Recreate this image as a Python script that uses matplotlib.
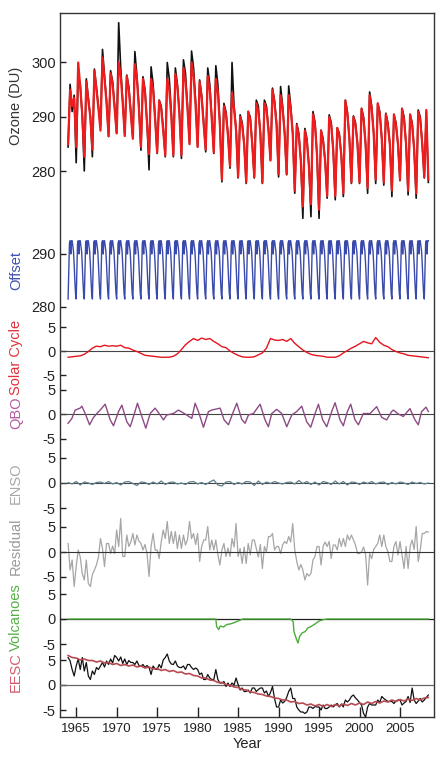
import numpy as np
import matplotlib.pyplot as plt

plt.rcParams['font.family'] = ['Liberation Sans', 'DejaVu Sans']
plt.rcParams['axes.unicode_minus'] = False

# ozone (DU), quarterly from Jan 1964: observed (black) and model (red)
ozone_obs = [
    284.5, 296.0, 291.0, 294.0,  # 1964
    281.6, 297.7, 296.0, 290.0,
    280.1, 297.0, 293.5, 290.0,
    282.7, 298.8, 295.5, 292.0,
    288.2, 302.4, 297.5, 293.0,
    286.4, 298.5, 296.5, 292.0,
    287.0, 307.3, 299.0, 293.0,  # 1970
    286.7, 297.7, 295.5, 291.0,
    286.1, 302.0, 297.5, 292.0,
    283.9, 297.4, 295.0, 289.0,
    280.3, 299.2, 296.0, 290.0,
    283.3, 293.1, 292.0, 288.0,
    282.7, 300.0, 297.0, 291.0,
    282.7, 299.0, 296.0, 291.0,
    282.4, 300.5, 298.0, 292.0,
    285.2, 302.1, 299.0, 293.0,
    284.5, 296.8, 294.0, 289.0,  # 1980
    283.6, 299.0, 296.0, 290.0,
    283.3, 299.4, 296.0, 289.0,
    278.1, 292.5, 291.0, 287.0,
    280.6, 300.0, 292.0, 288.0,
    278.8, 290.4, 289.0, 285.0,
    277.8, 291.0, 290.0, 285.0,
    278.8, 293.1, 292.0, 287.0,
    277.8, 293.1, 292.0, 288.0,
    282.1, 295.3, 293.0, 289.0,
    279.0, 295.6, 292.0, 287.0,  # 1990
    279.4, 295.7, 292.0, 287.0,
    276.0, 288.8, 287.0, 282.0,
    271.4, 287.9, 286.0, 281.0,
    271.7, 291.0, 289.0, 283.0,
    271.4, 287.6, 286.0, 282.0,
    275.1, 290.4, 289.0, 284.0,
    274.8, 288.0, 287.0, 283.0,
    275.4, 293.1, 291.0, 286.0,
    277.8, 290.2, 289.0, 285.0,
    277.8, 291.6, 290.0, 285.0,  # 2000
    276.0, 294.6, 292.0, 287.0,
    277.8, 292.5, 291.0, 286.0,
    277.5, 290.7, 289.0, 285.0,
    275.4, 290.4, 289.0, 285.0,
    278.3, 291.6, 290.0, 285.0,
    275.7, 290.4, 289.0, 284.0,
    275.1, 291.3, 290.0, 285.0,
    278.8, 291.0, 278.0,         # 2008
]
ozone_model = [
    285.0, 295.0, 292.0, 293.5,  # 1964
    284.5, 300.0, 295.5, 290.5,
    282.7, 296.5, 293.0, 290.0,
    284.0, 298.5, 295.0, 291.5,
    287.5, 300.9, 297.0, 292.5,
    286.5, 298.0, 296.0, 291.5,
    287.0, 300.0, 297.5, 292.5,  # 1970
    286.5, 297.5, 295.0, 290.5,
    286.0, 299.7, 297.0, 291.5,
    284.5, 297.0, 294.5, 289.0,
    283.2, 297.0, 295.0, 289.5,
    283.5, 293.0, 291.5, 287.5,
    283.0, 297.0, 295.0, 290.0,
    283.0, 297.9, 295.5, 290.5,
    283.0, 299.0, 296.5, 291.5,
    285.0, 300.0, 297.5, 292.0,
    284.5, 296.5, 293.5, 288.5,  # 1980
    284.0, 297.5, 295.0, 289.5,
    283.5, 297.0, 294.5, 288.5,
    278.5, 292.0, 290.5, 286.5,
    281.0, 294.5, 291.5, 287.5,
    279.0, 290.0, 288.5, 285.0,
    278.0, 291.0, 289.5, 285.0,
    279.0, 292.5, 291.0, 287.0,
    278.0, 292.5, 291.5, 287.5,
    282.0, 295.0, 292.5, 288.5,
    279.5, 294.0, 291.5, 287.0,  # 1990
    279.5, 294.0, 291.5, 287.0,
    276.5, 288.5, 286.5, 282.0,
    273.6, 287.5, 285.5, 281.0,
    274.0, 290.5, 288.5, 283.0,
    273.0, 287.5, 285.5, 282.0,
    275.5, 290.0, 288.5, 284.0,
    275.5, 288.0, 286.5, 283.0,
    276.0, 293.0, 290.5, 286.0,
    278.0, 290.0, 288.5, 285.0,
    278.0, 291.5, 289.5, 285.0,  # 2000
    277.0, 294.0, 291.5, 287.0,
    278.5, 292.5, 290.5, 286.0,
    278.0, 290.5, 288.5, 285.0,
    276.5, 290.5, 288.5, 285.0,
    278.5, 291.5, 289.5, 285.0,
    276.5, 290.5, 288.5, 284.0,
    276.0, 291.0, 289.5, 285.0,
    279.0, 291.3, 278.5,         # 2008
]

# seasonal offset (DU), Jan..Dec, the same every year
offset_cycle = [281.5, 286.5, 292.0, 292.5, 290.0, 292.5,
                292.5, 291.5, 290.5, 288.0, 285.0, 282.5]

# solar cycle term, half-yearly from 1964
solar = [
    -1.3, -1.2, -1.1, -1.0, -0.7, -0.1, 0.6, 1.0, 0.9, 1.2,
    1.0, 1.1, 1.0, 1.2, 0.7, 0.6, 0.2, -0.1, -0.5, -0.9,
    -1.0, -1.1, -1.2, -1.3, -1.3, -1.3, -1.1, -0.6, 0.3, 1.3,
    2.0, 2.6, 2.2, 2.7, 2.4, 2.6, 2.0, 1.5, 0.9, 0.7,
    0.0, -0.5, -0.9, -1.2, -1.3, -1.3, -1.2, -0.8, -0.4, 0.6,
    2.6, 2.3, 2.2, 2.4, 2.0, 2.6, 1.6, 0.9, 0.2, -0.3,
    -0.7, -0.9, -1.0, -1.1, -1.3, -1.3, -1.3, -1.0, -0.4, 0.1,
    0.6, 1.0, 1.5, 2.0, 1.7, 1.5, 2.8, 1.8, 1.2, 0.9,
    0.3, -0.1, -0.4, -0.6, -0.9, -1.0, -1.1, -1.2, -1.3, -1.4,
]

# QBO term, turning points
qbo_year = [
    1964.0, 1964.47, 1964.88, 1965.49, 1965.7, 1966.11, 1966.65, 1967.14,
    1967.55, 1967.96, 1968.58, 1969.2, 1969.61, 1970.23, 1970.64, 1971.26,
    1971.67, 1972.08, 1972.57, 1973.11, 1973.6, 1974.14, 1974.75, 1975.37,
    1975.78, 1976.19, 1977.02, 1977.63, 1978.46, 1979.28, 1979.69, 1980.1,
    1980.72, 1981.34, 1981.75, 1982.78, 1983.27, 1983.81, 1984.42, 1984.84,
    1985.45, 1985.86, 1986.28, 1986.89, 1987.72, 1988.33, 1988.74, 1989.16,
    1989.77, 1990.39, 1991.01, 1991.63, 1992.24, 1992.86, 1993.48, 1993.97,
    1994.51, 1994.92, 1995.45, 1995.95, 1996.56, 1996.98, 1997.59, 1998.0,
    1998.5, 1998.91, 1999.44, 1999.86, 2000.47, 2001.3, 2002.12, 2002.74,
    2003.35, 2003.97, 2004.18, 2004.79, 2005.41, 2006.23, 2006.85, 2007.26,
    2007.67, 2008.21, 2008.5,
]
qbo = [
    -1.9, -0.9, 0.8, 1.2, 1.6, 0.1, -2.2, -0.7,
    0.1, 0.8, 2.0, -1.2, -2.4, 0.5, 1.8, -1.6,
    -2.6, -0.5, 2.2, -0.5, -2.9, 0.1, 1.2, -0.2,
    -1.2, -0.2, 0.1, 0.8, 0.0, -0.9, 2.2, 0.5,
    -2.7, 0.5, 0.8, 1.2, -1.2, -2.2, 0.5, 2.2,
    -1.1, -1.9, -0.2, 0.1, 2.0, -1.2, -2.6, 0.1,
    0.95, 0.1, -2.6, -0.2, 0.5, 1.6, -1.6, -2.7,
    0.1, 2.0, -1.2, -2.6, 0.5, 2.3, -1.2, -2.4,
    0.5, 2.0, -1.2, -2.2, 0.1, 0.1, 1.5, -0.7,
    -1.2, 0.5, 0.8, 0.0, -0.5, 1.1, -1.2, -2.2,
    0.5, 1.4, 0.5,
]

# ENSO term, half-yearly from 1964
enso = [
    0.1, -0.2, 0.3, -0.4, 0.2, 0.0, -0.3, 0.1, 0.2, -0.1,
    0.3, -0.2, 0.1, -0.4, 0.2, 0.3, -0.1, -0.5, 0.2, 0.1,
    -0.3, 0.2, -0.2, 0.4, -0.3, 0.1, 0.2, -0.2, 0.0, -0.3,
    0.2, 0.3, -0.2, 0.1, -0.3, 0.2, 0.6, -0.4, -0.6, 0.2,
    0.3, -0.3, 0.1, -0.2, 0.3, 0.2, -0.5, 0.4, -0.3, 0.2,
    -0.1, 0.3, 0.0, -0.2, 0.1, 0.2, -0.2, 0.5, -0.1, 0.3,
    -0.3, 0.2, -0.4, 0.3, 0.1, -0.3, 0.4, -0.2, 0.3, -0.4,
    0.2, 0.1, -0.3, 0.2, -0.1, 0.3, -0.2, 0.1, 0.2, -0.3,
    0.1, -0.2, 0.2, 0.0, -0.3, 0.2, -0.1, 0.1, -0.2, 0.0,
]

# residual, quarterly from 1964
residual = [
    1.7, -3.6, -1.6, -6.9,  # 1964
    -2.9, 0.4, -1.0, -4.3,
    -5.6, -1.6, -6.3, -6.9,
    -4.5, -3.6, -2.6, -1.0,
    2.7, 0.7, -2.9, 1.7,
    1.7, -0.3, 1.2, -0.3,
    4.4, 1.1, 6.7, -0.9,  # 1970
    -0.9, 3.4, 1.1, 2.0,
    3.7, 1.4, 3.4, 2.2,
    1.7, 0.4, 1.5, -0.3,
    -4.9, 1.1, 3.7, 0.4,
    0.4, -1.3, 2.0, 4.4,
    2.7, 6.1, 1.7, 4.1,
    1.7, 4.1, 0.7, 3.4,
    0.7, 3.4, 1.4, 2.5,
    6.1, 2.7, 3.7, 1.5,
    3.7, -1.9, 1.1, 2.4,  # 1980
    2.4, 5.1, 0.4, 2.4,
    0.4, 2.4, -0.5, -2.6,
    0.4, 1.7, -0.9, 0.8,
    -0.9, 2.7, 1.0, 5.7,
    -0.9, 0.7, -2.3, 1.0,
    -2.3, 1.7, -0.6, 2.4,
    2.4, 0.7, -1.0, 1.5,
    -3.3, 1.1, 0.0, 3.1,
    3.1, 3.7, 0.4, 1.1,
    1.1, -0.3, 1.4, 2.1,  # 1990
    1.7, 3.1, 2.0, 5.7,
    0.4, -1.9, -3.6, -2.5,
    -3.6, -5.6, -4.3, -4.8,
    -4.3, -1.6, -0.9, 1.1,
    1.1, -2.6, 1.1, 2.0,
    1.1, 2.1, -1.3, 1.4,
    1.4, 0.4, 2.7, 1.1,
    2.7, 1.1, 3.4, 2.4,
    3.4, 2.4, 1.4, -0.3,
    -0.3, 0.0, 1.0, -0.5,  # 2000
    -6.6, -0.3, -1.3, 0.5,
    1.1, 1.7, 3.4, 1.1,
    3.4, 1.1, 0.1, -1.9,
    -1.9, 1.1, 2.1, -0.6,
    2.1, -0.6, -3.3, 1.1,
    -3.3, 1.1, 2.4, 0.5,
    5.1, -1.9, 0.4, 3.7,
    3.7, 4.1, 4.0,  # 2008
]

# volcanic term, turning points
volc_year = [1964.0, 1982.25, 1982.35, 1982.6, 1982.8, 1983.2, 1983.6, 1984.0,
             1984.4, 1985.0, 1985.6, 1991.5, 1991.8, 1991.9, 1992.2, 1992.4,
             1992.6, 1992.9, 1993.3, 1993.6, 1994.0, 1994.5, 1995.0, 1995.6,
             1996.0, 2008.5]
volc = [0.0, 0.0, -1.5, -2.1, -1.4, -1.6, -1.1, -1.0,
        -0.8, -0.4, 0.0, 0.0, -0.5, -2.5, -4.0, -4.8,
        -3.5, -2.8, -2.5, -1.8, -1.5, -1.0, -0.4, -0.1,
        0.0, 0.0]

# EESC: ozone minus other terms (black, quarterly) and EESC fit (red, half-yearly)
eesc_obs = [
    5.5, 4.8, 3.1, 1.8,  # 1964
    3.8, 5.2, 3.1, 5.5,
    2.8, 4.5, 1.8, 1.1,
    2.8, 2.1, 3.5, 3.1,
    3.8, 4.5, 3.6, 4.8,
    4.1, 5.2, 4.4, 5.9,
    5.5, 4.8, 5.6, 4.3,  # 1970
    5.2, 4.1, 4.9, 4.5,
    4.5, 4.1, 4.8, 3.9,
    3.8, 4.1, 3.5, 3.9,
    3.5, 2.1, 3.8, 3.2,
    3.1, 4.1, 3.4, 5.0,
    5.5, 6.2, 4.8, 4.2,
    4.1, 4.8, 3.8, 3.5,
    3.5, 3.8, 3.1, 4.1,
    4.1, 3.5, 3.1, 3.4,
    3.1, 2.1, 2.4, 1.1,  # 1980
    1.1, 2.1, 1.4, 1.1,
    1.1, 3.1, 1.1, 0.4,
    0.4, 0.7, -0.3, 0.4,
    -0.3, 0.4, 0.0, 1.4,
    0.1, -1.0, -0.6, -1.3,
    -1.3, -1.0, -1.6, -0.6,
    -0.6, -1.3, -0.9, -0.6,
    -0.6, -1.6, -1.2, -2.3,
    -1.5, -0.3, -2.7, -4.4,
    -4.4, -3.0, -3.6, -3.3,  # 1990
    -2.5, -1.3, -0.6, -2.7,
    -2.7, -4.4, -5.0, -5.4,
    -5.4, -5.7, -5.4, -4.4,
    -4.4, -4.7, -4.3, -4.4,
    -4.4, -5.0, -4.0, -4.7,
    -4.7, -4.4, -4.0, -4.4,
    -4.0, -3.7, -4.4, -3.8,
    -4.4, -3.0, -3.4, -3.0,
    -2.3, -2.0, -2.6, -3.0,
    -3.5, -4.0, -5.7, -6.4,  # 2000
    -4.4, -3.7, -4.0, -4.0,
    -4.0, -3.0, -3.5, -2.3,
    -2.7, -3.0, -3.3, -3.3,
    -3.3, -3.7, -3.2, -3.0,
    -3.0, -4.0, -3.6, -3.3,
    -2.3, -3.5, -0.6, -3.0,
    -3.7, -3.2, -2.7, -3.4,
    -3.0, -2.5, -2.0,  # 2008
]
eesc_fit = [
    5.9, 5.5, 5.4, 5.0, 5.2, 4.9, 4.9, 4.6, 4.8, 4.4,
    4.5, 4.1, 4.3, 3.9, 4.1, 3.8, 4.0, 3.6, 3.8, 3.4,
    3.6, 3.2, 3.3, 2.9, 3.1, 2.7, 2.9, 2.5, 2.6, 2.2,
    2.3, 1.9, 1.8, 1.4, 1.4, 1.0, 0.9, 0.5, 0.5, 0.1,
    0.0, -0.4, -0.5, -0.9, -1.0, -1.4, -1.5, -1.8, -1.9, -2.2,
    -2.3, -2.6, -2.7, -3.0, -3.0, -3.4, -3.3, -3.7, -3.6, -4.0,
    -3.8, -4.2, -3.9, -4.3, -3.9, -4.3, -3.9, -4.2, -3.8, -4.1,
    -3.7, -4.0, -3.6, -3.9, -3.4, -3.7, -3.3, -3.6, -3.2, -3.4,
    -3.0, -3.3, -2.9, -3.2, -2.8, -3.1, -2.7, -3.0, -2.6, -2.5,
]

year_ticks = [1965, 1970, 1975, 1980, 1985, 1990, 1995, 2000, 2005]


def times(values, step):
    return 1964.0 + step * np.arange(len(values))


W, H = 442, 762
X0, X1 = 60, 434
XLIM = (1963.0, 2009.2)

fig = plt.figure(figsize=(W / 100, H / 100), dpi=100)


def px_axes(top, bot):
    return fig.add_axes([X0 / W, 1 - bot / H, (X1 - X0) / W, (bot - top) / H])


# outer frame with the year axis
frame = px_axes(13, 717)
frame.set_xlim(XLIM)
frame.set_ylim(0, 1)
frame.set_yticks([])
frame.set_xticks(year_ticks)
frame.tick_params(axis='x', direction='in', length=7, width=1, labelsize=9.5,
                  pad=4, colors='#222')
for s in frame.spines.values():
    s.set_color('#333')
    s.set_linewidth(1.0)
frame.set_xlabel('Year', fontsize=10.5, labelpad=2, color='#222')


def panel(top, bot, zero_px, zero_val, ppu, ticks, label, label_color, label_y):
    ax = px_axes(top, bot)
    ax.set_xlim(XLIM)
    ax.set_ylim(zero_val - (bot - zero_px) / ppu, zero_val + (zero_px - top) / ppu)
    ax.patch.set_visible(False)
    for s in ax.spines.values():
        s.set_visible(False)
    ax.set_xticks([])
    ax.set_yticks(ticks)
    ax.tick_params(axis='y', direction='in', length=4, width=1, labelsize=10.5,
                   pad=3, colors='#222')
    fig.text(16 / W, 1 - label_y / H, label, rotation=90, ha='center', va='center',
             fontsize=10.5, color=label_color)
    return ax


# ozone
ax = panel(13, 225, 117, 290, 5.45, [280, 290, 300], 'Ozone (DU)', '#333333', 106)
ax.plot(times(ozone_obs, 0.25), ozone_obs, color='#111111', lw=1.2, clip_on=False)
ax.plot(times(ozone_model, 0.25), ozone_model, color='#ee1c1c', lw=1.6, clip_on=False)

# offset
n_months = 535
offset = np.tile(offset_cycle, n_months // 12 + 1)[:n_months]
ax = panel(225, 315, 254, 290, 5.3, [280, 290], 'Offset', '#3f4fae', 270)
ax.plot(times(offset, 1 / 12), offset, color='#3a4aaa', lw=1.0, clip_on=False)

# solar
ax = panel(315, 380, 351, 0, 4.8, [-5, 0, 5], 'Solar Cycle', '#e0303c', 357)
ax.axhline(0, color='#444444', lw=0.8)
ax.plot(times(solar, 0.5), solar, color='#e4141e', lw=1.0, clip_on=False)

# QBO
ax = panel(380, 450, 414, 0, 4.9, [-5, 0, 5], 'QBO', '#b45aa0', 413)
ax.axhline(0, color='#444444', lw=0.8)
ax.plot(qbo_year, qbo, color='#8c4a84', lw=1.0, clip_on=False)

# ENSO
ax = panel(450, 518, 483, 0, 5.0, [-5, 0, 5], 'ENSO', '#a8a8a8', 483)
ax.axhline(0, color='#444444', lw=0.8)
ax.plot(times(enso, 0.5), enso, color='#5f7f8c', lw=0.9, clip_on=False)

# residual
ax = panel(518, 586, 552, 0, 5.0, [-5, 0, 5], 'Residual', '#9a9a9a', 546)
ax.plot(times(residual, 0.25), residual, color='#a6a6a6', lw=0.9, clip_on=False)
ax.axhline(0, color='#333333', lw=0.8)

# volcanoes
ax = panel(586, 652, 619, 0, 5.0, [-5, 0, 5], 'Volcanoes', '#55b045', 617)
ax.axhline(0, color='#222222', lw=0.9)
ax.plot(volc_year, volc, color='#49ad38', lw=1.0, clip_on=False)

# EESC
ax = panel(652, 717, 685, 0, 5.0, [-5, 0, 5], 'EESC', '#d45c6c', 672)
ax.axhline(0, color='#666666', lw=0.9)
ax.plot(times(eesc_obs, 0.25), eesc_obs, color='#111111', lw=0.9, clip_on=False)
ax.plot(times(eesc_fit, 0.5), eesc_fit, color='#b84a52', lw=1.2, clip_on=False)

fig.savefig('out.png', dpi=100)
